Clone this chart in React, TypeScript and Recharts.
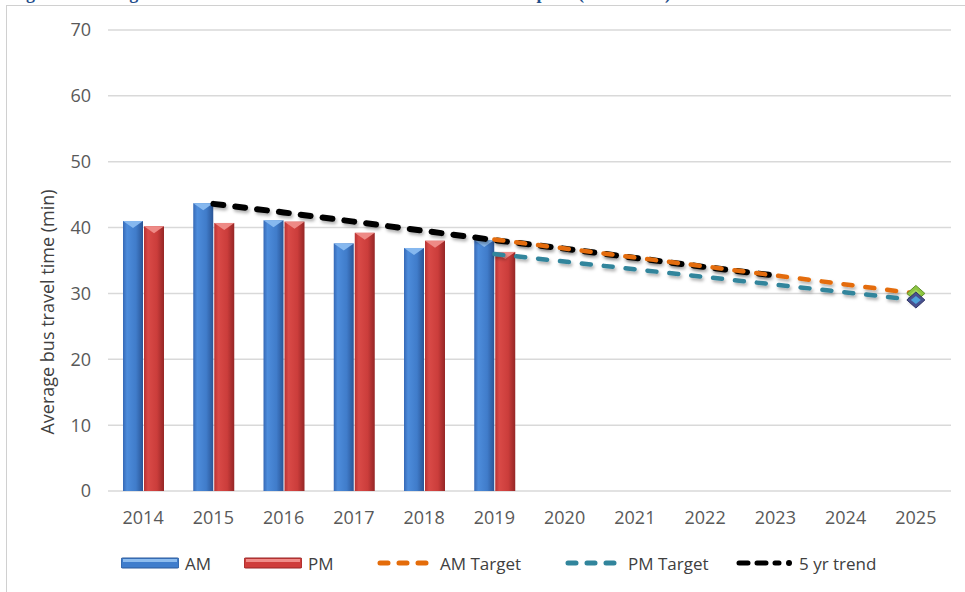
import React from 'react';
import {
  ComposedChart, Bar, Line, XAxis, YAxis, CartesianGrid,
} from 'recharts';

const years = ['2014', '2015', '2016', '2017', '2018', '2019', '2020', '2021', '2022', '2023', '2024', '2025'];
const amValues = [41.0, 43.7, 41.1, 37.6, 36.9, 38.1, null, null, null, null, null, null];
const pmValues = [40.2, 40.7, 40.9, 39.2, 38.0, 36.3, null, null, null, null, null, null];
const amTarget = [null, null, null, null, null, 38.2, null, null, null, null, null, 30.0];
const pmTarget = [null, null, null, null, null, 36.0, null, null, null, null, null, 29.0];
const trend = [null, 43.6, 42.3, 40.9, 39.5, 38.1, 36.8, 35.4, 34.0, 32.7, null, null];
const yTicks = [0, 10, 20, 30, 40, 50, 60, 70];

const data = years.map((year, i) => ({
  year,
  am: amValues[i],
  pm: pmValues[i],
  amTarget: amTarget[i],
  pmTarget: pmTarget[i],
  trend: trend[i],
}));

const textColor = '#595959';
const font = '"Open Sans", sans-serif';

// bar with a lit left side and a bevelled top, a bit like the office 3d style
const bevelBar = (grad: string, top: string) => (props: any) => {
  const { x, y, width, height } = props;
  if (!height || height <= 0) return <g />;
  const b = Math.min(7, height);
  return (
    <g>
      <rect x={x} y={y} width={width} height={height} fill={`url(#${grad})`} />
      <polygon points={`${x},${y} ${x + width},${y} ${x + width / 2},${y + b}`} fill={top} />
    </g>
  );
};

const lastDiamond = (outer: string, inner: string, stroke: string) => (props: any) => {
  const { cx, cy, index } = props;
  if (index !== years.length - 1 || cx == null || cy == null) return <g key={index} />;
  return (
    <g key={index}>
      <polygon points={`${cx},${cy - 8} ${cx + 9},${cy} ${cx},${cy + 8} ${cx - 9},${cy}`} fill={outer} stroke={stroke} strokeWidth={1} />
      <polygon points={`${cx},${cy - 4} ${cx + 5},${cy} ${cx},${cy + 4} ${cx - 5},${cy}`} fill={inner} />
    </g>
  );
};

const LegendBar = ({ light, mid, dark }: any) => (
  <svg width={58} height={12} style={{ display: 'block' }}>
    <rect x={0} y={1} width={58} height={10} rx={1.5} fill={mid} stroke={dark} strokeWidth={1} />
    <rect x={2} y={2} width={54} height={3} fill={light} />
  </svg>
);

const LegendDash = ({ color, dot }: any) => (
  <svg width={58} height={12} style={{ display: 'block' }}>
    <line x1={4} y1={6} x2={dot ? 44 : 54} y2={6} stroke={color} strokeWidth={5} strokeLinecap="round" strokeDasharray={dot ? '9 9' : '8 11'} />
    {dot && <circle cx={54} cy={6} r={3} fill={color} />}
  </svg>
);

const legendItems = [
  { label: 'AM', left: 121, icon: <LegendBar light="#8dbcee" mid="#3f7dcc" dark="#2c5a9a" /> },
  { label: 'PM', left: 244, icon: <LegendBar light="#f08c88" mid="#cf3d3b" dark="#962626" /> },
  { label: 'AM Target', left: 376, icon: <LegendDash color="#e46c0a" /> },
  { label: 'PM Target', left: 564, icon: <LegendDash color="#31859c" /> },
  { label: '5 yr trend', left: 735, icon: <LegendDash color="#000000" dot /> },
];

export default function App() {
  return (
    <div style={{ position: 'absolute', left: 0, top: 0, width: 965, height: 592, overflow: 'hidden', background: '#fff' }}>
      <div
        style={{
          position: 'absolute', left: 10, top: -17, whiteSpace: 'nowrap',
          font: 'bold 18px "Liberation Serif", serif', color: '#1f4e8c',
        }}
      >
        Figure 6: Average bus travel times on selected routes in AM and PM peak (2014–2025)
      </div>
      <div style={{ position: 'absolute', left: 6, top: 5, width: 1000, height: 700, border: '1.5px solid #d0d0d0', boxSizing: 'border-box' }} />

      <div style={{ position: 'absolute', left: 0, top: 0 }}>
        <ComposedChart
          width={965}
          height={592}
          data={data}
          margin={{ top: 30, right: 14, left: 0, bottom: 71 }}
          barSize={20}
          barGap={1}
        >
          <defs>
            <linearGradient id="amGrad" x1="0" y1="0" x2="1" y2="0">
              <stop offset="0" stopColor="#3669b6" />
              <stop offset="0.2" stopColor="#4d8cdb" />
              <stop offset="0.65" stopColor="#407cca" />
              <stop offset="1" stopColor="#2a5596" />
            </linearGradient>
            <linearGradient id="pmGrad" x1="0" y1="0" x2="1" y2="0">
              <stop offset="0" stopColor="#b73232" />
              <stop offset="0.2" stopColor="#d94a47" />
              <stop offset="0.65" stopColor="#cb3d3b" />
              <stop offset="1" stopColor="#952626" />
            </linearGradient>
            <filter id="lineShadow" x="-5%" y="-50%" width="110%" height="200%">
              <feDropShadow dx="1.5" dy="2.5" stdDeviation="1.5" floodColor="#000" floodOpacity="0.3" />
            </filter>
          </defs>
          <CartesianGrid vertical={false} stroke="#d9d9d9" strokeWidth={1.5} />
          <XAxis
            dataKey="year"
            height={30}
            axisLine={false}
            tickLine={false}
            tickSize={0}
            tickMargin={20}
            tick={{ fill: textColor, fontSize: 18, fontFamily: font }}
            interval={0}
          />
          <YAxis
            width={108}
            domain={[0, 70]}
            ticks={yTicks}
            axisLine={false}
            tickLine={false}
            tickSize={0}
            tickMargin={17}
            tick={{ fill: textColor, fontSize: 18, fontFamily: font }}
          />
          <Bar dataKey="am" shape={bevelBar('amGrad', '#86b8ef')} isAnimationActive={false} />
          <Bar dataKey="pm" shape={bevelBar('pmGrad', '#ee8a86')} isAnimationActive={false} />
          <Line
            dataKey="trend"
            stroke="#000"
            strokeWidth={6}
            strokeDasharray="10 12"
            strokeLinecap="round"
            dot={false}
            activeDot={false}
            filter="url(#lineShadow)"
            isAnimationActive={false}
          />
          <Line
            dataKey="amTarget"
            connectNulls
            stroke="#e46c0a"
            strokeWidth={4.5}
            strokeDasharray="9 13"
            strokeLinecap="round"
            dot={lastDiamond('#8dc641', '#a6d65e', '#5f8f2a')}
            activeDot={false}
            filter="url(#lineShadow)"
            isAnimationActive={false}
          />
          <Line
            dataKey="pmTarget"
            connectNulls
            stroke="#31859c"
            strokeWidth={4.5}
            strokeDasharray="9 13"
            strokeLinecap="round"
            dot={lastDiamond('#48508f', '#4ea3d9', '#2e3466')}
            activeDot={false}
            filter="url(#lineShadow)"
            isAnimationActive={false}
          />
        </ComposedChart>
      </div>

      <div
        style={{
          position: 'absolute', left: 47, top: 312, transform: 'translate(-50%, -50%) rotate(-90deg)',
          whiteSpace: 'nowrap', fontFamily: font, fontSize: 18, color: '#404040',
        }}
      >
        Average bus travel time (min)
      </div>

      {legendItems.map((item) => (
        <div
          key={item.label}
          style={{
            position: 'absolute', left: item.left, top: 551, height: 24, display: 'flex', alignItems: 'center',
            fontFamily: font, fontSize: 17, color: '#404040', whiteSpace: 'nowrap',
          }}
        >
          {item.icon}
          <span style={{ marginLeft: 6 }}>{item.label}</span>
        </div>
      ))}
    </div>
  );
}
